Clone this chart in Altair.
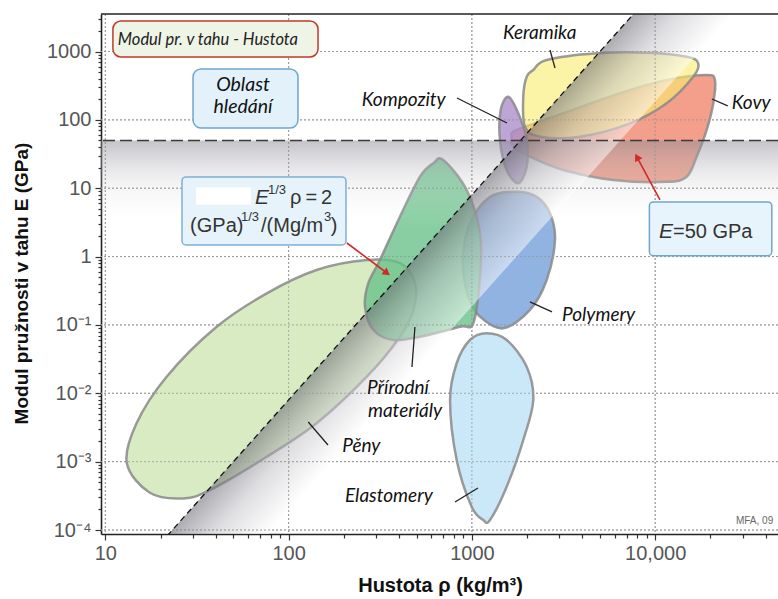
import math
import altair as alt
import pandas as pd

# ---------------------------------------------------------------- geometry
W, H = 677, 520
X_DOMAIN = [9.47, 46800]
Y_DOMAIN = [8.74e-5, 3537]
xs = alt.Scale(type="log", domain=X_DOMAIN, nice=False)
ys = alt.Scale(type="log", domain=Y_DOMAIN, nice=False)

# ---------------------------------------------------------------- data
# material-family envelopes: density (kg/m3) and Young's modulus (GPa)
peny_rho = [13.1, 17.5, 26.6, 37.3, 76, 142, 267, 405, 479, 489, 405, 267, 142, 76, 40.5, 21.6, 14.8]
peny_E = [9.5e-4, 3.5e-4, 2.9e-4, 3.85e-4, 1.18e-3, 3.64e-3, 0.0175, 0.0673, 0.166, 0.411,
          0.805, 0.89, 0.637, 0.29, 0.094, 0.0175, 3.64e-3]

prirodni_rho = [698, 937, 1107, 1107, 1018, 861, 521, 373, 290, 261, 272, 315, 405, 521, 616]
prirodni_E = [25.9, 9.4, 2.19, 0.508, 0.106, 0.094, 0.0673, 0.0602, 0.0843, 0.185, 0.407,
              0.89, 3.83, 14.7, 23.2]

poly_rho = [1755, 1256, 976, 891, 956, 1107, 1484, 2075, 2559, 2841, 2668, 2257]
poly_E = [8.9, 7.5, 3.07, 0.89, 0.259, 0.132, 0.0893, 0.166, 0.454, 1.75, 4.3, 7.5]

elast_rho = [1204, 1548, 1991, 2163, 1907, 1548, 1256, 1154, 997, 826, 760, 826, 976]
elast_E = [0.0755, 0.0602, 0.0245, 7.98e-3, 2.07e-3, 4.3e-4, 1.4e-4, 1.4e-4, 2.19e-4,
           1.06e-3, 7.98e-3, 0.0275, 0.0602]

komp_rho = [1580, 1791, 1991, 1991, 1791, 1548, 1423, 1436]
komp_E = [218, 125, 50.7, 20.6, 11.8, 18.5, 50.7, 139]

keram_rho = [2163, 2559, 4796, 8986, 14850, 17180, 16140, 11550, 7289, 3889, 2353, 1949, 1907, 1991]
keram_E = [536, 751, 942, 960, 839, 672, 428, 175, 89, 56.8, 56.8, 79.4, 218, 428]

kovy_rho = [1649, 1755, 3153, 6427, 11550, 19100, 21200, 20750, 19100, 16840, 14850, 11550,
            5907, 3153, 2075, 1682]
kovy_E = [56.8, 71.1, 125, 245, 383, 453, 383, 175, 71.1, 28.9, 14.7, 12.4, 13.2, 18.5, 28.9, 40.5]

# selection guide E^(1/3)/rho = 2 (GPa^(1/3) per Mg/m3) and the E = 50 GPa limit
guide_rho = [20, 8000]
guide_E = [6.4e-5, 4096]
band_rho = [20, 8000, 28000, 70]
band_E = [6.4e-5, 4096, 4096, 6.4e-5]
E_LIMIT = 50

# family names
fam_text = ["Keramika", "Kompozity", "Kovy", "Polymery", "Přírodní", "materiály", "Pěny", "Elastomery"]
fam_rho = [1478, 251, 26200, 3101, 268, 271, 196, 203]
fam_E = [1866, 195, 176, 0.14, 0.012, 5.5e-3, 1.69e-3, 3.15e-4]

# leader lines from names to envelopes
lead_rho1 = [2668, 829, 20400, 2075, 489, 128, 809]
lead_E1 = [1052, 209, 202, 0.217, 0.0933, 3.8e-3, 2.57e-4]
lead_rho2 = [2841, 1554, 24900, 2735, 471, 164, 1080]
lead_E2 = [574, 90, 160, 0.155, 0.0243, 1.75e-3, 4.12e-4]

# red arrows (start -> tip)
arrow_rho1 = [208, 10620]
arrow_E1 = [1.58, 6.73]
arrow_rho2 = [344, 7958]
arrow_E2 = [0.575, 28.6]
arrow_angle = [127, 332]

# axis ticks
x_major = [10, 100, 1000, 10000]
x_minor = [k * 10 ** p for p in range(1, 5) for k in range(2, 10) if k * 10 ** p < 46800]
y_major = [1000, 100, 10, 1, 0.1, 0.01, 0.001, 0.0001]
y_minor = [float(f"{k}e{p}") for p in range(-4, 4) for k in range(2, 10) if float(f"{k}e{p}") < 3537]


# ---------------------------------------------------------------- helpers
def X(field="rho"):
    return alt.X(f"{field}:Q", scale=xs)


def Y(field="E"):
    return alt.Y(f"{field}:Q", scale=ys)


def envelope(rho, mod, fill, opacity):
    df = pd.DataFrame({"rho": rho, "E": mod, "i": list(range(len(rho)))})
    return alt.Chart(df).mark_line(
        interpolate="cardinal-closed", fill=fill, fillOpacity=opacity,
        stroke="#8a8a8a", strokeWidth=2.5, strokeOpacity=0.85, clip=True,
    ).encode(x=X(), y=Y(), order=alt.Order("i:Q"))


def texts(rows, **props):
    df = pd.DataFrame(rows, columns=["t", "rho", "E"])
    return alt.Chart(df).mark_text(baseline="middle", **props).encode(
        x=X(), y=Y(), text="t:N")


def box(r1, r2, e1, e2, fill, stroke, radius=6):
    df = pd.DataFrame({"rho": [r1], "rho2": [r2], "E": [e1], "E2": [e2]})
    return alt.Chart(df).mark_rect(
        fill=fill, stroke=stroke, strokeWidth=1.5, cornerRadius=radius,
    ).encode(x=X(), x2="rho2:Q", y=Y(), y2="E2:Q")


# pixel position of data values, used to orient the band gradient
LX0, LX1 = math.log10(X_DOMAIN[0]), math.log10(X_DOMAIN[1])
LY0, LY1 = math.log10(Y_DOMAIN[0]), math.log10(Y_DOMAIN[1])


def to_px(r):
    return W * (math.log10(r) - LX0) / (LX1 - LX0)


def to_py(e):
    return H * (LY1 - math.log10(e)) / (LY1 - LY0)


pts = [(to_px(r), to_py(e)) for r, e in zip(band_rho, band_E)]
bx0 = min(p[0] for p in pts); bx1 = max(p[0] for p in pts)
by0 = min(p[1] for p in pts); by1 = max(p[1] for p in pts)
norm = [((p[0] - bx0) / (bx1 - bx0), (p[1] - by0) / (by1 - by0)) for p in pts]
ux, uy = norm[1][0] - norm[0][0], norm[1][1] - norm[0][1]
nx, ny = -uy, ux
ln = math.hypot(nx, ny); nx, ny = nx / ln, ny / ln
t = (norm[3][0] - norm[0][0]) * nx + (norm[3][1] - norm[0][1]) * ny
g_x1, g_y1 = norm[1]
g_x2, g_y2 = g_x1 + t * nx, g_y1 + t * ny

band_grad = alt.LinearGradient(
    gradient="linear", x1=g_x1, y1=g_y1, x2=g_x2, y2=g_y2,
    stops=[alt.GradientStop(color="rgba(110,110,120,0.58)", offset=0),
           alt.GradientStop(color="rgba(190,190,196,0.5)", offset=0.45),
           alt.GradientStop(color="rgba(255,255,255,0.5)", offset=1)])

hband_grad = alt.LinearGradient(
    gradient="linear", x1=0, y1=0, x2=0, y2=1,
    stops=[alt.GradientStop(color="rgba(140,140,150,0.52)", offset=0),
           alt.GradientStop(color="rgba(200,200,205,0.25)", offset=0.45),
           alt.GradientStop(color="rgba(255,255,255,0)", offset=1)])

# ---------------------------------------------------------------- axes
FONT = "Liberation Sans"
x_labels = "datum.value == 10 ? '10' : datum.value == 100 ? '100' : datum.value == 1000 ? '1000' : datum.value == 10000 ? '10,000' : ''"
y_labels = ("datum.value == 1000 ? '1000' : datum.value == 100 ? '100' : datum.value == 10 ? '10' : "
            "datum.value == 1 ? '1' : datum.value == 0.1 ? '10⁻¹' : datum.value == 0.01 ? '10⁻²' : "
            "datum.value == 0.001 ? '10⁻³' : datum.value == 0.0001 ? '10⁻⁴' : ''")

x_axis = alt.Axis(
    values=x_major + x_minor, grid=False, labelExpr=x_labels, labelOverlap=False,
    labelFont=FONT, labelFontSize=20, labelColor="#555", labelPadding=3,
    tickSize=alt.condition("indexof([10,100,1000,10000], datum.value) >= 0", alt.value(6), alt.value(4)),
    tickColor="#333", tickWidth=1.2, domainColor="#222", domainWidth=1.6,
    title="Hustota ρ (kg/m³)", titleFont=FONT, titleFontSize=20, titleFontWeight="bold",
    titleColor="#111", titleX=339, titleY=51, titleBaseline="middle",
)
y_axis = alt.Axis(
    values=y_major + y_minor, grid=False, labelExpr=y_labels, labelOverlap=False,
    labelFont=FONT, labelFontSize=20, labelColor="#555", labelPadding=4,
    tickSize=alt.condition("indexof([1000,100,10,1,0.1,0.01,0.001,0.0001], datum.value) >= 0", alt.value(6), alt.value(3)),
    tickColor="#333", tickWidth=1.2, domainColor="#222", domainWidth=1.6,
    title="Modul pružnosti v tahu E (GPa)", titleFont=FONT, titleFontSize=19,
    titleFontWeight="bold", titleColor="#111", titleX=-80, titleY=269,
    titleBaseline="middle", titleAngle=270,
)

# ---------------------------------------------------------------- layers
layers = []

# dotted grid, carrying the axes
layers.append(alt.Chart(pd.DataFrame({"rho": x_major})).mark_rule(
    color="#9a9a9a", strokeDash=[2, 2], strokeWidth=1).encode(
    x=alt.X("rho:Q", scale=xs, axis=x_axis)))
layers.append(alt.Chart(pd.DataFrame({"E": y_major})).mark_rule(
    color="#9a9a9a", strokeDash=[2, 2], strokeWidth=1).encode(
    y=alt.Y("E:Q", scale=ys, axis=y_axis)))

layers += [
    envelope(peny_rho, peny_E, "#d3e8bb", 0.88),
    envelope(elast_rho, elast_E, "#c4e6f7", 0.9),
    envelope(poly_rho, poly_E, "#7da6dc", 0.85),
    envelope(prirodni_rho, prirodni_E, "#66c088", 0.78),
    envelope(kovy_rho, kovy_E, "#f08a72", 0.82),
    envelope(keram_rho, keram_E, "#f9ec70", 0.62),
    envelope(komp_rho, komp_E, "#ad8fcb", 0.8),
]

# shading below E = 50 GPa
layers.append(alt.Chart(pd.DataFrame({"rho": [X_DOMAIN[0]], "rho2": [X_DOMAIN[1]], "E": [E_LIMIT], "E2": [2.5]}))
              .mark_rect(fill=hband_grad).encode(x=X(), x2="rho2:Q", y=Y(), y2="E2:Q"))

# shading on the rejected side of the guide line
band_df = pd.DataFrame({"rho": band_rho, "E": band_E, "i": [0, 1, 2, 3]})
layers.append(alt.Chart(band_df).mark_line(interpolate="linear-closed", fill=band_grad, strokeOpacity=0, clip=True)
              .encode(x=X(), y=Y(), order=alt.Order("i:Q")))

# grid again, faintly, over the envelopes
layers.append(alt.Chart(pd.DataFrame({"rho": x_major})).mark_rule(
    color="#9a9a9a", strokeDash=[2, 2], strokeWidth=1, opacity=0.7).encode(x=X()))
layers.append(alt.Chart(pd.DataFrame({"E": y_major})).mark_rule(
    color="#9a9a9a", strokeDash=[2, 2], strokeWidth=1, opacity=0.7).encode(y=Y()))

# frame top
layers.append(alt.Chart(pd.DataFrame({"a": [0]})).mark_rule(color="#222", strokeWidth=1.6).encode(
    y=alt.value(0), x=alt.value(0), x2=alt.value(W)))

# guide lines
layers.append(alt.Chart(pd.DataFrame({"rho": guide_rho, "E": guide_E})).mark_line(
    color="#111", strokeDash=[6, 4], strokeWidth=1.3, clip=True).encode(x=X(), y=Y()))
layers.append(alt.Chart(pd.DataFrame({"E": [E_LIMIT]})).mark_rule(
    color="#3a3a3a", strokeDash=[12, 5], strokeWidth=1.5).encode(y=Y()))

# leader lines
lead_df = pd.DataFrame({"rho": lead_rho1, "E": lead_E1, "rho2": lead_rho2, "E2": lead_E2})
layers.append(alt.Chart(lead_df).mark_rule(color="#222", strokeWidth=1.3).encode(
    x=X(), y=Y(), x2="rho2:Q", y2="E2:Q"))

# family names
layers.append(texts(list(zip(fam_text, fam_rho, fam_E)), align="left", font="Lato",
                    fontStyle="italic", fontSize=19, color="#111"))

# annotation boxes
layers.append(box(11.0, 144.7, 2793, 831, "#eef4e6", "#c0392b", 8))
layers.append(texts([("Modul pr. v tahu - Hustota", 11.7, 1472)], align="left", font="Lato",
                    fontStyle="italic", fontSize=16.5, color="#222"))

layers.append(box(30.1, 112.5, 555, 76, "#e2f1fa", "#6fa6cf", 8))
layers.append(texts([("Oblast", 56.4, 324), ("hledání", 56.4, 154)], align="center", font="Lato",
                    fontStyle="italic", fontSize=19.5, color="#111"))

layers.append(box(26.2, 205.6, 14.6, 1.48, "#e6f3fb", "#7fb0d4", 4))
layers.append(box(31.6, 61.6, 10.1, 5.87, "#ffffff", "#ffffff", 0))
layers.append(box(9300, 43300, 6.29, 1.03, "#e8f4fb", "#6fa6cf", 4))

layers.append(texts([("E", 65.6, 7.19), ("E", 10480, 2.29)], align="left", font=FONT,
                    fontStyle="italic", fontSize=21, color="#333"))
layers.append(texts([("ρ\u2009=\u20092", 101.8, 7.19), ("(GPa)", 29.0, 2.80), ("/(Mg/m", 70.7, 2.80),
                     (")", 170, 2.80), ("=50 GPa", 12510, 2.29)],
                    align="left", font=FONT, fontSize=20, color="#333"))
layers.append(texts([("1/3", 77.2, 9.42), ("1/3", 55.0, 3.79), ("3", 156, 3.79)], align="left",
                    font=FONT, fontSize=13, color="#333"))

layers.append(texts([("MFA, 09", 27600, 1.355e-4)], align="left", font=FONT, fontSize=10, color="#666"))

# red arrows
arr_df = pd.DataFrame({"rho": arrow_rho1, "E": arrow_E1, "rho2": arrow_rho2, "E2": arrow_E2, "ang": arrow_angle})
layers.append(alt.Chart(arr_df).mark_rule(color="#d02a2a", strokeWidth=1.6).encode(
    x=X(), y=Y(), x2="rho2:Q", y2="E2:Q"))
layers.append(alt.Chart(arr_df).mark_point(shape="triangle-up", filled=True, size=70, color="#d02a2a", opacity=1).encode(
    x=X("rho2"), y=Y("E2"), angle=alt.Angle("ang:Q", scale=None)))

chart = alt.layer(*layers).properties(
    width=W, height=H,
    autosize=alt.AutoSizeParams(type="none"),
    padding={"left": 101, "top": 14, "right": 0, "bottom": 65},
    background="white",
).configure_view(stroke=None)

chart.save("out.html", embed_options={"renderer": "svg", "actions": False})
